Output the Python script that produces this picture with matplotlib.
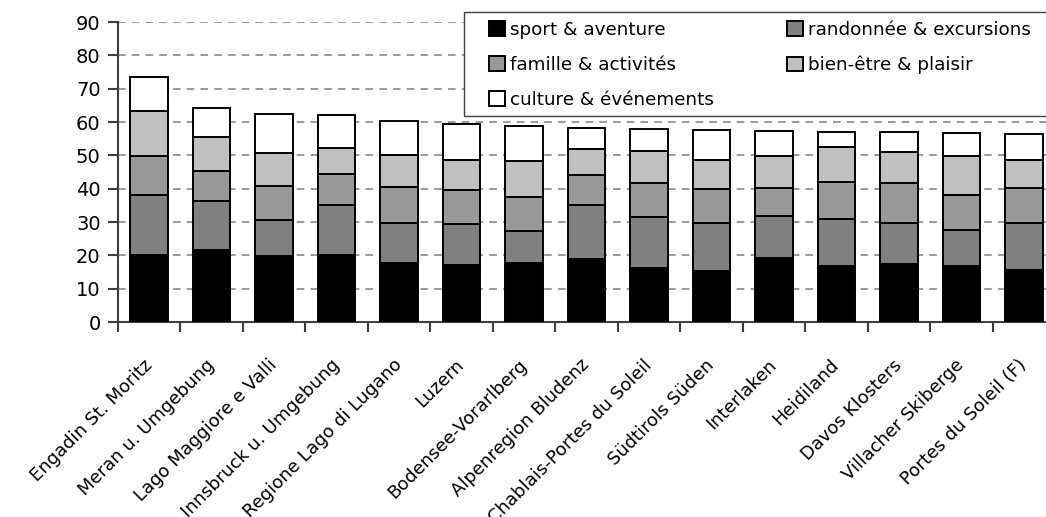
import numpy as np
import matplotlib
matplotlib.use("Agg")
import matplotlib.pyplot as plt
from matplotlib.patches import Rectangle

regions = ["Engadin St. Moritz", "Meran u. Umgebung", "Lago Maggiore e Valli",
           "Innsbruck u. Umgebung", "Regione Lago di Lugano", "Luzern",
           "Bodensee-Vorarlberg", "Alpenregion Bludenz", "Chablais-Portes du Soleil",
           "Südtirols Süden", "Interlaken", "Heidiland", "Davos Klosters",
           "Villacher Skiberge", "Portes du Soleil (F)"]

sport = [20.0, 21.6, 19.9, 20.2, 17.6, 17.1, 17.8, 18.9, 16.3, 15.4, 19.1, 16.9, 17.3, 16.9, 15.6]
randonnee = [18.0, 14.7, 10.8, 14.8, 12.0, 12.3, 9.6, 16.2, 15.1, 14.3, 12.8, 13.9, 12.5, 10.8, 14.2]
famille = [11.7, 9.0, 10.2, 9.3, 10.9, 10.3, 10.0, 9.1, 10.3, 10.3, 8.3, 11.3, 12.0, 10.3, 10.3]
bien_etre = [13.7, 10.3, 9.8, 7.8, 9.6, 8.8, 10.9, 7.7, 9.7, 8.6, 9.6, 10.5, 9.1, 11.8, 8.4]
culture = [10.1, 8.7, 11.7, 10.0, 10.2, 11.0, 10.4, 6.4, 6.4, 9.0, 7.6, 4.3, 6.0, 6.9, 8.0]

series_labels = ["sport & aventure", "randonnée & excursions", "famille & activités",
                 "bien-être & plaisir", "culture & événements"]
series_colors = ["#000000", "#808080", "#999999", "#c0c0c0", "#ffffff"]

plt.rcParams["font.family"] = "DejaVu Sans"

W, H = 1046, 517
fig = plt.figure(figsize=(W / 100, H / 100), dpi=100)
ax = fig.add_axes([118 / W, 1 - 322 / H, (1055 - 118) / W, 300 / H])

x = np.arange(len(regions))
bottom = np.zeros(len(regions))
handles = []
for vals, lab, col in zip([sport, randonnee, famille, bien_etre, culture], series_labels, series_colors):
    b = ax.bar(x, vals, width=0.6, bottom=bottom, color=col, edgecolor="black",
               linewidth=1.4, label=lab, zorder=3)
    handles.append(b)
    bottom += np.array(vals)

ax.set_xlim(-0.5, len(regions) - 0.5)
ax.set_ylim(0, 90)
ax.set_yticks(np.arange(0, 91, 10))
ax.yaxis.grid(True, color="#808080", linestyle=(0, (5, 4)), linewidth=1.1, zorder=0)
ax.set_axisbelow(True)

# ticks between categories, labels centred under bars
ax.set_xticks(np.arange(-0.5, len(regions), 1.0))
ax.set_xticklabels([])
ax.set_xticks(x, minor=True)
ax.set_xticklabels(regions, minor=True, rotation=45, ha="right", va="center",
                   rotation_mode="anchor", fontsize=13)
ax.tick_params(axis="x", which="minor", length=0, pad=29)
ax.tick_params(axis="x", which="major", length=7, width=1.5, color="#404040", direction="out")
ax.tick_params(axis="y", length=7, width=1.5, color="#404040", labelsize=14, pad=5.5)

for s in ["top", "right"]:
    ax.spines[s].set_visible(False)
for s in ["left", "bottom"]:
    ax.spines[s].set_color("#404040")
    ax.spines[s].set_linewidth(1.5)

# legend box runs off the right edge of the picture
fig.patches.append(Rectangle((464 / W, 1 - 116 / H), (1070 - 464) / W, 104 / H,
                             transform=fig.transFigure, facecolor="white",
                             edgecolor="#404040", linewidth=1.0, zorder=5))

order = [0, 2, 4, 1, 3]
leg = fig.legend([handles[i] for i in order], [series_labels[i] for i in order],
                 loc="upper left", bbox_to_anchor=(489 / W, 1 - 21 / H),
                 ncol=2, fontsize=13.2, frameon=False,
                 handlelength=0.85, handleheight=0.85, handletextpad=0.3,
                 columnspacing=4.0, labelspacing=0.92, borderpad=0, borderaxespad=0)
leg.set_zorder(6)

fig.savefig("out.png", dpi=100)
